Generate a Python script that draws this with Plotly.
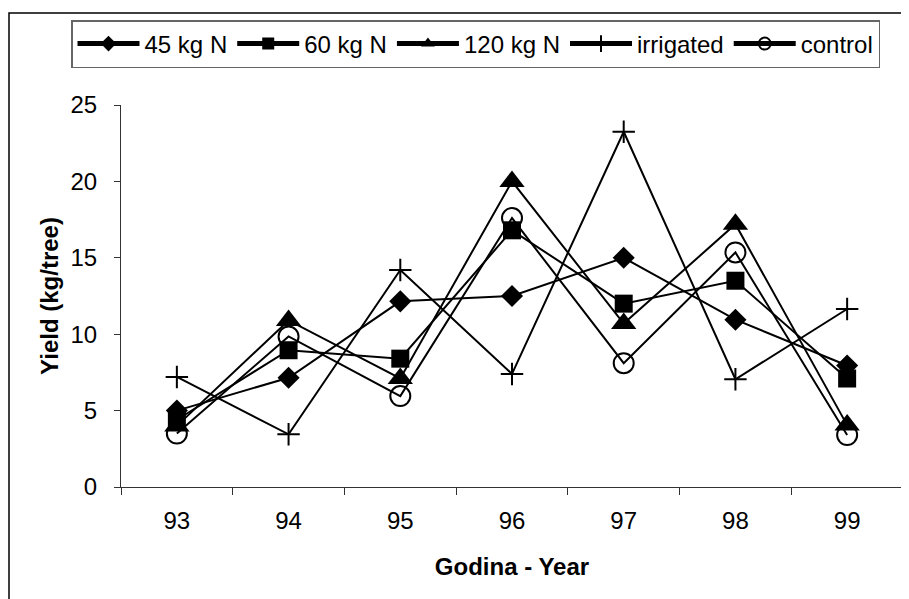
import plotly.graph_objects as go

years = ["93", "94", "95", "96", "97", "98", "99"]
n45 = [5.0, 7.15, 12.15, 12.5, 15.0, 10.95, 7.95]
n60 = [4.4, 8.95, 8.4, 16.8, 12.0, 13.5, 7.1]
n120 = [4.0, 10.9, 7.1, 20.0, 10.7, 17.2, 4.05]
irrigated = [7.2, 3.45, 14.2, 7.4, 23.25, 7.05, 11.65]
control = [3.5, 9.85, 5.95, 17.6, 8.1, 15.35, 3.4]

series = [
    ("45 kg N", n45, "diamond", 17, 0),
    ("60 kg N", n60, "square", 18, 0),
    ("120 kg N", n120, "triangle-up", 22, 0),
    ("irrigated", irrigated, "cross-thin-open", 16, 2),
    ("control", control, "circle-open", 20, 2),
]

FONT = "Liberation Sans, Arial, sans-serif"

fig = go.Figure()
for name, vals, sym, size, lw in series:
    fig.add_trace(go.Scatter(
        x=years, y=vals, mode="lines+markers", name=name,
        line=dict(color="black", width=2),
        marker=dict(symbol=sym, size=size, color="black",
                    line=dict(color="black", width=lw)),
    ))

# page is shown with an 8px body offset; work in screen pixels
OFF = 8
W, H = 909, 599
plot_left, plot_right, plot_top, plot_bottom = 121, 903, 105, 487
L = plot_left - OFF
R = W - (plot_right - OFF)
T = plot_top - OFF
B = H - (plot_bottom - OFF)
pw, ph = W - L - R, H - T - B


def px_x(sx):
    return (sx - plot_left) / pw


def px_y(sy):
    return (plot_bottom - sy) / ph


fig.add_shape(type="rect", xref="paper", yref="paper",
              x0=px_x(9), x1=px_x(1000), y0=px_y(700), y1=px_y(13),
              line=dict(color="black", width=1.5), fillcolor="rgba(0,0,0,0)",
              layer="below")

fig.update_layout(
    width=W, height=H,
    margin=dict(l=L, r=R, t=T, b=B, pad=0),
    paper_bgcolor="white", plot_bgcolor="white",
    font=dict(family=FONT, size=24, color="black"),
    showlegend=True,
    legend=dict(orientation="h", x=px_x(71), xanchor="left",
                y=px_y(20), yanchor="top",
                bordercolor="#666666", borderwidth=1.5, bgcolor="white",
                font=dict(family=FONT, size=24, color="black"),
                itemsizing="constant", itemwidth=62),
    xaxis=dict(type="category", range=[-0.5, 6.5], showline=True,
               linecolor="#333333", linewidth=1, ticks="outside",
               tickson="boundaries", ticklen=7, tickcolor="#333333",
               showgrid=False, zeroline=False, ticklabelstandoff=12,
               tickfont=dict(size=24),
               title=dict(text="Godina - Year", standoff=25,
                          font=dict(size=24, weight="bold"))),
    yaxis=dict(range=[0, 25], tick0=0, dtick=5, showline=True,
               linecolor="#333333", linewidth=1, ticks="outside",
               ticklen=6, tickcolor="#333333", showgrid=False,
               zeroline=False, ticklabelstandoff=12,
               tickfont=dict(size=24),
               title=dict(text="Yield (kg/tree)", standoff=5,
                          font=dict(size=24, weight="bold"))),
)

fig.write_html("out.html")
